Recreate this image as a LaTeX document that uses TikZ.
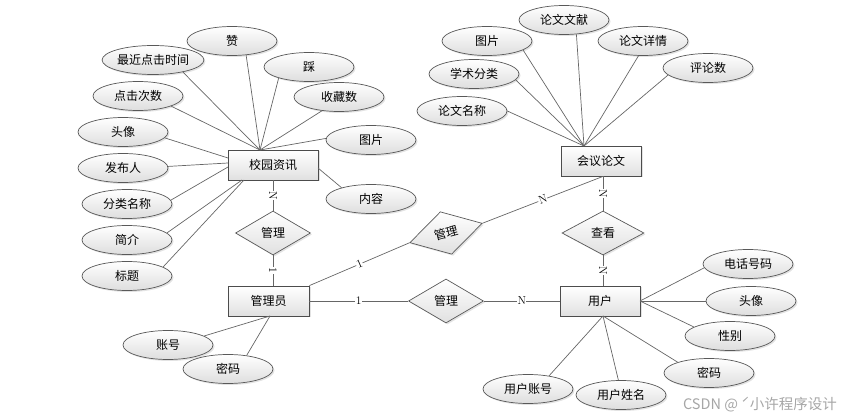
\documentclass[tikz,border=0pt]{standalone}
\usepackage{fontspec}
\newfontfamily\cjk{Noto Sans CJK SC}
\usetikzlibrary{shapes.geometric,shadows}
\begin{document}
\begin{tikzpicture}[x=1pt,y=-1pt,
 every node/.style={font=\cjk\fontsize{12}{14}\selectfont},
 shd/.style={drop shadow={shadow xshift=1.5pt,shadow yshift=-1.5pt,fill=black!22}},
 attr/.style={ellipse,draw=black!65,line width=0.7pt,minimum width=90pt,minimum height=29pt,inner sep=0pt,top color=white,bottom color=black!13,shd},
 ent/.style={rectangle,draw=black!70,line width=0.8pt,minimum height=30pt,inner sep=0pt,top color=white,bottom color=black!12,shd},
 rel/.style={diamond,draw=black!65,line width=0.7pt,minimum width=75pt,minimum height=44pt,inner sep=0pt,top color=white,bottom color=black!12,shd},
 ln/.style={draw=black!60,line width=0.7pt},
 card/.style={fill=white,inner sep=0.5pt,font=\fontsize{11.5}{12}\selectfont,sloped}
]
\path[use as bounding box] (0,0) rectangle (855,419);

% ---------- entities ----------
\node[ent,minimum width=90pt] (xy) at (273,165) {校园资讯};
\node[ent,minimum width=81pt] (admin) at (268.5,301) {管理员};
\node[ent,minimum width=80pt] (user) at (600,301) {用户};
\node[ent,minimum width=80pt] (conf) at (601,161) {会议论文};

% ---------- relations ----------
\node[rel] (gl) at (273,233) {管理};
\node[rel] (g2) at (446,301) {管理};
\node[rel,rotate=15] (g3) at (446,233) {管理};
\node[rel,minimum width=82pt] (look) at (603,233) {查看};

% ---------- attributes of 校园资讯 ----------
\node[attr] (a1) at (232,41) {赞};
\node[attr] (a2) at (153,60) {最近点击时间};
\node[attr] (a3) at (309,67) {踩};
\node[attr] (a4) at (138,96) {点击次数};
\node[attr] (a5) at (339,97) {收藏数};
\node[attr] (a6) at (123,132) {头像};
\node[attr] (a7) at (371,140) {图片};
\node[attr] (a8) at (123,168) {发布人};
\node[attr] (a9) at (371,199) {内容};
\node[attr] (a10) at (127,204) {分类名称};
\node[attr] (a11) at (127,240) {简介};
\node[attr] (a12) at (127,276) {标题};

% ---------- attributes of 管理员 ----------
\node[attr] (b1) at (168,345) {账号};
\node[attr] (b2) at (228,369) {密码};

% ---------- attributes of 会议论文 ----------
\node[attr] (c1) at (487,41) {图片};
\node[attr] (c2) at (564,20) {论文文献};
\node[attr] (c3) at (643,41) {论文详情};
\node[attr] (c4) at (474,74) {学术分类};
\node[attr] (c5) at (708,68) {评论数};
\node[attr] (c6) at (462,111) {论文名称};

% ---------- attributes of 用户 ----------
\node[attr] (u1) at (748,264) {电话号码};
\node[attr] (u2) at (751,301) {头像};
\node[attr] (u3) at (730,336) {性别};
\node[attr] (u4) at (709,373) {密码};
\node[attr] (u5) at (528,389) {用户账号};
\node[attr] (u6) at (621,395) {用户姓名};

% ---------- hub coordinates ----------
\coordinate (hxy) at (260,150);
\coordinate (hxl1) at (228,158);
\coordinate (hxl2) at (228,163);
\coordinate (hxl3) at (228,167);
\coordinate (hxb1) at (242,180);
\coordinate (hxb2) at (244,180);
\coordinate (hxr) at (318,168);
\coordinate (hadm) at (270,316);
\coordinate (hconf) at (584,146);
\coordinate (huser) at (640,301);
\coordinate (huserb) at (603,316);

% ---------- attribute lines ----------
\draw[ln] (hxy) -- (a1.-45);
\draw[ln] (hxy) -- (a2.-22);
\draw[ln] (hxy) -- (a3.200);
\draw[ln] (hxy) -- (a4.-17);
\draw[ln] (hxy) -- (a5.219);
\draw[ln] (hxy) -- (a7.178);
\draw[ln] (hxl1) -- (a6.-8);
\draw[ln] (hxl2) -- (a8.2);
\draw[ln] (hxl3) -- (a10.5);
\draw[ln] (hxb1) -- (a11.10);
\draw[ln] (hxb2) -- (a12.14);
\draw[ln] (hxr) -- (a9.159);

\draw[ln] (hadm) -- (b1.14);
\draw[ln] (hadm) -- (b2.36);

\draw[ln] (hconf) -- (c1.-14);
\draw[ln] (hconf) -- (c2.-49);
\draw[ln] (hconf) -- (c3.-107);
\draw[ln] (hconf) -- (c4.-8);
\draw[ln] (hconf) -- (c5.190);
\draw[ln] (hconf) -- (c6.0);

\draw[ln] (huser) -- (u1.185);
\draw[ln] (huser) -- (u2.180);
\draw[ln] (huser) -- (u3.166);
\draw[ln] (huserb) -- (u4.161);
\draw[ln] (huserb) -- (u5.32);
\draw[ln] (huserb) -- (u6.100);

% ---------- relationship lines ----------
\draw[ln] (xy.south) -- node[card]{N} (gl.north);
\draw[ln] (gl.south) -- node[card]{1} (gl.south |- admin.north);
\draw[ln] (admin.north east) -- node[card]{1} (g3.west);
\draw[ln] (g3.east) -- node[card]{N} (look.north |- conf.south);
\draw[ln] (admin.east) -- node[card]{1} (g2.west);
\draw[ln] (g2.east) -- node[card]{N} (user.west);
\draw[ln] (look.north |- conf.south) -- node[card]{N} (look.north);
\draw[ln] (look.south) -- node[card]{N} (look.south |- user.north);

% ---------- watermark ----------
\node[text=black!35,font=\cjk\fontsize{14.5}{16}\selectfont] (wm) at (760,405) {CSDN @ ˊ小许程序设计};
\end{tikzpicture}
\end{document}
